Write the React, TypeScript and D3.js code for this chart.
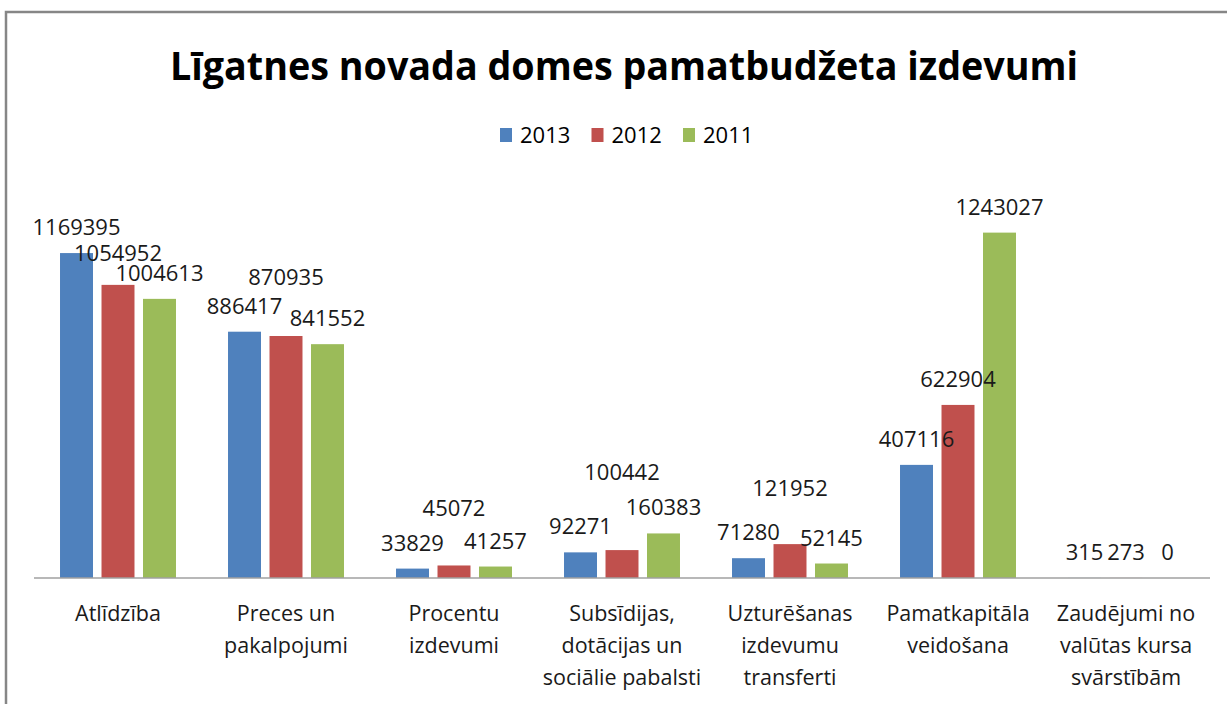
import React from 'react';
import * as d3 from 'd3';

// chart values
const categories = [
  'Atlīdzība',
  'Preces un\npakalpojumi',
  'Procentu\nizdevumi',
  'Subsīdijas,\ndotācijas un\nsociālie pabalsti',
  'Uzturēšanas\nizdevumu\ntransferti',
  'Pamatkapitāla\nveidošana',
  'Zaudējumi no\nvalūtas kursa\nsvārstībām',
];
const years = ['2013', '2012', '2011'];
const values2013 = [1169395, 886417, 33829, 92271, 71280, 407116, 315];
const values2012 = [1054952, 870935, 45072, 100442, 121952, 622904, 273];
const values2011 = [1004613, 841552, 41257, 160383, 52145, 1243027, 0];
const colors = ['#4F81BD', '#C0504D', '#9BBB59'];

// the 2012 labels were dragged up by hand in the original
const labelLift2012 = [6, 33, 31, 52, 30, 0, 0];

const W = 1227;
const H = 704;
const font = '"Open Sans", "Liberation Sans", sans-serif';

export default function App() {
  const series = [values2013, values2012, values2011];
  const lifts = [null, labelLift2012, null];

  const x0 = d3.scaleBand<string>().domain(categories).range([34, 1210]).padding(0);
  const x1 = d3.scaleBand<string>()
    .domain(years)
    .range([0, x0.bandwidth()])
    .paddingInner(0.205)
    .paddingOuter(0.627);
  const y = d3.scaleLinear().domain([0, 1400000]).range([578, 189]);

  return (
    <div style={{ position: 'fixed', left: 0, top: 0, width: W, height: H, background: '#fff' }}>
      <svg width={W} height={H} style={{ display: 'block' }}>
        <rect x={6} y={12} width={W + 20} height={H + 20} fill="#fff" stroke="#868686" strokeWidth={2.5} />

        <text x={624} y={80} textAnchor="middle" fontFamily={font} fontWeight="bold" fontSize={40}
          textLength={908} lengthAdjust="spacingAndGlyphs" fill="#000">
          Līgatnes novada domes pamatbudžeta izdevumi
        </text>

        {/* legend */}
        {years.map((yr, i) => {
          const lx = 500 + i * 91.5;
          return (
            <g key={yr}>
              <rect x={lx} y={128} width={12} height={14} fill={colors[i]} />
              <text x={lx + 20} y={143} fontFamily={font} fontSize={22} fill="#000">{yr}</text>
            </g>
          );
        })}

        {/* bars */}
        {categories.map((c, ci) => (
          <g key={c} transform={`translate(${x0(c)},0)`}>
            {years.map((yr, si) => {
              const v = series[si][ci];
              return (
                <rect key={yr} x={x1(yr)} y={y(v)} width={x1.bandwidth()} height={y(0) - y(v)}
                  fill={colors[si]} />
              );
            })}
          </g>
        ))}

        {/* axis line */}
        <line x1={34} x2={1210} y1={y(0)} y2={y(0)} stroke="#A0A0A0" strokeWidth={1.5} />

        {/* data labels */}
        {categories.map((c, ci) => (
          <g key={c}>
            {years.map((yr, si) => {
              const v = series[si][ci];
              const lift = lifts[si] ? lifts[si]![ci] : 0;
              return (
                <text key={yr} x={(x0(c) as number) + (x1(yr) as number) + x1.bandwidth() / 2}
                  y={y(v) - 18 - lift} textAnchor="middle" fontFamily={font} fontSize={22} fill="#1a1a1a">
                  {v}
                </text>
              );
            })}
          </g>
        ))}

        {/* category labels */}
        {categories.map((c) => (
          <text key={c} x={(x0(c) as number) + x0.bandwidth() / 2} y={621} textAnchor="middle"
            fontFamily={font} fontSize={21.5} fill="#1a1a1a">
            {c.split('\n').map((line, li) => (
              <tspan key={li} x={(x0(c) as number) + x0.bandwidth() / 2} dy={li === 0 ? 0 : 32}>{line}</tspan>
            ))}
          </text>
        ))}
      </svg>
    </div>
  );
}
